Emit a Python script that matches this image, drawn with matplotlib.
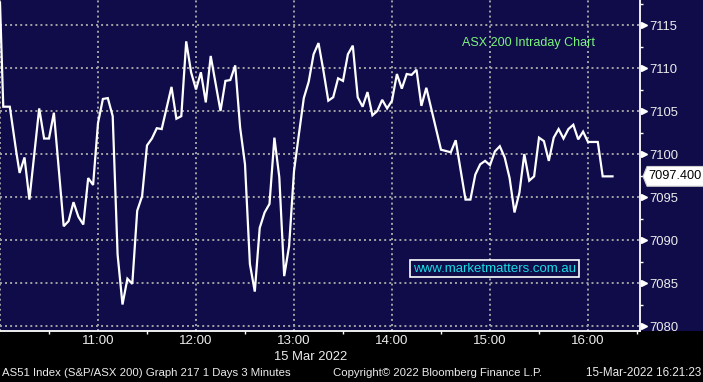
import matplotlib
matplotlib.use('Agg')
import matplotlib.pyplot as plt
import matplotlib.transforms as mtransforms
from matplotlib.patches import Polygon, Rectangle
from matplotlib.ticker import FixedLocator, MultipleLocator

# ASX 200 intraday, 15 Mar 2022, minutes after 10:00
minutes = [0, 2, 6, 10, 12, 15, 18, 24, 27, 30, 33, 39, 42, 45, 48, 51, 54, 57,
           60, 63, 66, 69, 72, 75, 78, 81, 84, 87, 90, 93, 96, 99, 105, 108, 111,
           114, 117, 120, 123, 126, 129, 135, 138, 141, 144, 147, 150, 153, 156,
           159, 162, 165, 168, 171, 174, 177, 180, 183, 186, 189, 192, 195, 198,
           201, 204, 207, 210, 213, 216, 219, 222, 225, 228, 231, 234, 237, 240,
           243, 246, 249, 252, 255, 258, 261, 270, 276, 279, 285, 288, 291, 294,
           297, 300, 303, 306, 309, 312, 315, 318, 321, 324, 327, 330, 333, 336,
           339, 342, 345, 348, 351, 354, 357, 360, 366, 369, 375]
prices = [7117.6, 7105.5, 7105.5, 7100.2, 7097.8, 7099.6, 7094.7, 7105.3, 7101.8,
          7101.8, 7104.8, 7091.6, 7092.2, 7094.4, 7092.7, 7091.8, 7097.2, 7096.4,
          7103.6, 7106.4, 7106.5, 7104.4, 7088.3, 7082.5, 7085.5, 7084.9, 7093.4,
          7095.1, 7101.0, 7101.8, 7103.0, 7102.9, 7107.8, 7104.1, 7104.4, 7113.1,
          7109.5, 7107.5, 7109.5, 7106.0, 7111.4, 7105.0, 7108.5, 7108.6, 7110.3,
          7103.1, 7098.8, 7087.2, 7084.0, 7091.4, 7093.2, 7094.2, 7101.9, 7097.3,
          7085.8, 7089.3, 7098.0, 7102.3, 7106.5, 7108.4, 7111.6, 7112.9, 7109.7,
          7106.2, 7106.6, 7108.8, 7108.5, 7111.6, 7112.6, 7106.6, 7105.5, 7107.2,
          7104.5, 7105.0, 7106.3, 7105.3, 7106.2, 7109.3, 7107.6, 7109.3, 7109.2,
          7109.8, 7105.6, 7107.7, 7100.5, 7100.2, 7101.6, 7094.7, 7094.7, 7097.6,
          7098.8, 7099.2, 7098.7, 7100.3, 7100.9, 7099.6, 7097.2, 7093.2, 7095.5,
          7100.0, 7096.9, 7097.4, 7101.9, 7101.5, 7099.2, 7101.9, 7102.9, 7101.8,
          7102.9, 7103.4, 7101.7, 7102.6, 7101.4, 7101.4, 7097.4, 7097.4]
last_price = 7097.4

hour_ticks = [0, 60, 120, 180, 240, 300, 360]
hour_labels = ['', '11:00', '12:00', '13:00', '14:00', '15:00', '16:00']
price_levels = [7080, 7085, 7090, 7095, 7100, 7105, 7110, 7115]

NAVY = '#0f0c49'
GRID = '#a3a3a3'
TXT = '#ececec'

W, H = 703, 382
fig = plt.figure(figsize=(W / 100, H / 100), dpi=100, facecolor='black')
# navy band behind plot and price axis
band = Rectangle((0, 51 / H), 1, 1, transform=fig.transFigure,
                 facecolor=NAVY, edgecolor='none', zorder=-10)
fig.patches.append(band)
ax = fig.add_axes([0, 51 / H, 640 / W, 331 / H])
ax.set_zorder(1)
ax.set_facecolor(NAVY)

ax.plot(minutes, prices, color='white', lw=1.6, zorder=3, solid_joinstyle='miter')

ax.set_xlim(0, 640 / 98 * 60)
ax.set_ylim(7080 - 5 / 8.6, 7080 + 326 / 8.6)

# grid
ax.xaxis.set_major_locator(FixedLocator(hour_ticks))
ax.set_xticklabels(hour_labels)
ax.xaxis.set_minor_locator(MultipleLocator(30))
ax.yaxis.set_major_locator(FixedLocator(price_levels))
ax.yaxis.set_minor_locator(MultipleLocator(2.5))
ax.grid(which='major', color=GRID, lw=1.4, linestyle=(0, (1, 1.6)))

for s in ['top', 'left']:
    ax.spines[s].set_visible(False)
for s in ['bottom', 'right']:
    ax.spines[s].set_color('white')
    ax.spines[s].set_linewidth(1.3)

ax.yaxis.tick_right()
ax.tick_params(axis='x', which='major', length=0, pad=3, labelsize=9.6,
               labelcolor=TXT)
ax.tick_params(axis='x', which='minor', length=2.5, width=1, color='white',
               direction='out')
ax.tick_params(axis='y', which='major', length=0, pad=7, labelsize=9.4,
               labelcolor=TXT)
ax.tick_params(axis='y', which='minor', length=2.5, width=1, color='white',
               direction='out')
for lab in ax.get_xticklabels() + ax.get_yticklabels():
    lab.set_family('Liberation Sans')

# arrow markers on the price axis
blend = mtransforms.blended_transform_factory(ax.transAxes, ax.transData)
ax.plot([1.0055] * len(price_levels), price_levels, linestyle='none',
        marker='>', ms=4.5, color='white', transform=blend, clip_on=False)

# last price tag
h = 1.15
tag = Polygon([(643 / 640, last_price), (647 / 640, last_price + h),
               (705 / 640, last_price + h), (705 / 640, last_price - h),
               (647 / 640, last_price - h)], closed=True, transform=blend,
              facecolor='white', edgecolor='#cccccc', lw=0.8, clip_on=False,
              zorder=5)
ax.add_patch(tag)
ax.text(648.5 / 640, last_price, f'{last_price:.3f}', transform=blend,
        ha='left', va='center', fontsize=9.2, color='black',
        family='Liberation Sans', zorder=6, clip_on=False)

# annotations
ax.text(462 / 640, 1 - 43 / 331, 'ASX 200 Intraday Chart', transform=ax.transAxes,
        ha='left', va='center', fontsize=9, color='#7cf47c',
        family='Liberation Sans')
ax.text(494.5 / 640, 1 - 268.5 / 331, 'www.marketmatters.com.au',
        transform=ax.transAxes, ha='center', va='center', fontsize=9.5,
        color='#18dce8', family='Liberation Sans',
        bbox=dict(boxstyle='square,pad=0.22', facecolor=NAVY,
                  edgecolor='white', lw=1.2))

# date and footer
fig.text(311 / W, 1 - 357 / H, '15 Mar 2022', ha='center', va='center',
         fontsize=9.4, color=TXT, family='Liberation Sans')
fig.text(2 / W, 1 - 373.5 / H, 'AS51 Index (S&P/ASX 200) Graph 217 1 Days 3 Minutes',
         ha='left', va='center', fontsize=8.2, color=TXT, family='Liberation Sans')
fig.text(333 / W, 1 - 373.5 / H, 'Copyright\u00a9 2022 Bloomberg Finance L.P.',
         ha='left', va='center', fontsize=8.2, color=TXT, family='Liberation Sans')
fig.text(701 / W, 1 - 373.5 / H, '15-Mar-2022 16:21:23',
         ha='right', va='center', fontsize=8.4, color=TXT, family='Liberation Sans')

fig.savefig('out.png', dpi=100, facecolor='black')
